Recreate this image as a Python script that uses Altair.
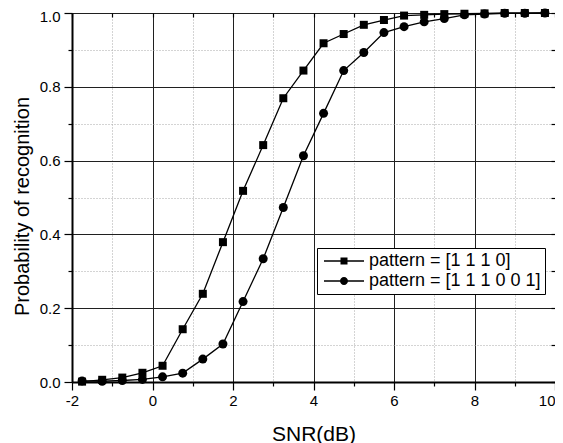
import altair as alt
import pandas as pd

# ---- data ----
snr = [-1.75, -1.25, -0.75, -0.25, 0.25, 0.75, 1.25, 1.75, 2.25, 2.75, 3.25, 3.75,
       4.25, 4.75, 5.25, 5.75, 6.25, 6.75, 7.25, 7.75, 8.25, 8.75, 9.25, 9.75]
p_sq = [0.001, 0.006, 0.012, 0.025, 0.044, 0.143, 0.239, 0.379, 0.518, 0.642, 0.769, 0.844,
        0.918, 0.943, 0.968, 0.981, 0.993, 0.995, 0.997, 0.998, 0.999, 1.0, 1.0, 1.0]
p_ci = [0.003, 0.002, 0.004, 0.007, 0.014, 0.024, 0.062, 0.103, 0.218, 0.334, 0.473, 0.613,
        0.728, 0.844, 0.893, 0.947, 0.963, 0.976, 0.985, 0.995, 0.997, 0.999, 0.999, 1.0]
series_names = ["pattern = [1 1 1 0]", "pattern = [1 1 1 0 0 1]"]

x_major = [-2, 0, 2, 4, 6, 8, 10]
x_minor = [-1, 1, 3, 5, 7, 9]
y_major = [0.0, 0.2, 0.4, 0.6, 0.8, 1.0]
y_minor = [0.1, 0.3, 0.5, 0.7, 0.9]

df = pd.DataFrame({
    "snr": snr + snr,
    "p": p_sq + p_ci,
    "series": [series_names[0]] * len(snr) + [series_names[1]] * len(snr),
})

W, H = 483, 369
FONT = "Liberation Sans"
xs = alt.Scale(domain=[-2, 10], nice=False, zero=False)
ys = alt.Scale(domain=[0, 1], nice=False, zero=False)

base = alt.Chart(df)
sq = base.transform_filter(alt.datum.series == series_names[0])
ci = base.transform_filter(alt.datum.series == series_names[1])

# minor grid + minor ticks (bottom/left)
layer_minor = sq.mark_line(color="black", strokeWidth=1.3).encode(
    x=alt.X("snr:Q", scale=xs, axis=alt.Axis(
        orient="bottom", values=x_minor, labels=False, title=None, domain=False,
        ticks=True, tickSize=4, tickColor="black", tickWidth=1.2,
        grid=True, gridColor="#a8a8a8", gridDash=[1, 2], gridWidth=1)),
    y=alt.Y("p:Q", scale=ys, axis=alt.Axis(
        orient="left", values=y_minor, labels=False, title=None, domain=False,
        ticks=True, tickSize=4, tickColor="black", tickWidth=1.2,
        grid=True, gridColor="#a8a8a8", gridDash=[1, 2], gridWidth=1)),
)

# major grid, labels, titles
layer_major = ci.mark_line(color="black", strokeWidth=1.3).encode(
    x=alt.X("snr:Q", scale=xs, axis=alt.Axis(
        orient="bottom", values=x_major, title="SNR(dB)",
        labelExpr="'' + datum.value", labelFlush=False, labelOverlap=False,
        labelAlign=alt.expr("datum.value == 10 ? 'right' : 'center'"),
        labelFont=FONT, labelFontSize=15, labelColor="black", labelPadding=3,
        domain=True, domainColor="black", domainWidth=2,
        ticks=True, tickSize=8, tickColor="black", tickWidth=1.2,
        grid=True, gridColor="#202020", gridWidth=1,
        titleFont=FONT, titleFontSize=21, titleFontWeight="normal", titleColor="black",
        titleBaseline="alphabetic", titleY=58)),
    y=alt.Y("p:Q", scale=ys, axis=alt.Axis(
        orient="left", values=y_major, format=".1f", title="Probability of recognition",
        labelFlush=False, labelOverlap=False,
        labelOffset=alt.expr("datum.value == 1 ? 3 : 0"),
        labelFont=FONT, labelFontSize=15, labelColor="black", labelPadding=4,
        domain=True, domainColor="black", domainWidth=2,
        ticks=True, tickSize=8, tickColor="black", tickWidth=1.2,
        grid=True, gridColor="#202020", gridWidth=1,
        titleFont=FONT, titleFontSize=20, titleFontWeight="normal", titleColor="black",
        titleX=-40, titleY=193)),
)

# inward ticks on top / right edges
layer_mirror = sq.mark_point(shape="square", filled=True, color="black", size=64, opacity=1).encode(
    x=alt.X("snr:Q", scale=xs, axis=alt.Axis(
        orient="bottom", offset=-H, values=x_major + x_minor, labels=False, title=None,
        domain=False, ticks=True, tickSize=4, tickColor="black", tickWidth=1.2, grid=False)),
    y=alt.Y("p:Q", scale=ys, axis=alt.Axis(
        orient="left", offset=-W, values=y_major + y_minor, labels=False, title=None,
        domain=False, ticks=True, tickSize=4, tickColor="black", tickWidth=1.2, grid=False)),
)

layer_circles = ci.mark_point(shape="circle", filled=True, color="black", size=81, opacity=1).encode(
    x=alt.X("snr:Q", scale=xs, axis=None),
    y=alt.Y("p:Q", scale=ys, axis=None),
)

# legend: line + marker symbols as custom paths
path_sq = "M-4,-0.13H4V0.13H-4Z M-0.7,-0.7H0.7V0.7H-0.7Z"
path_ci = "M-4,-0.13H4V0.13H-4Z M-0.8,0A0.8,0.8 0 1,1 0.8,0A0.8,0.8 0 1,1 -0.8,0Z"

layer_legend = base.mark_point(opacity=0, filled=True, color="black").encode(
    x=alt.X("snr:Q", scale=xs, axis=None),
    y=alt.Y("p:Q", scale=ys, axis=None),
    shape=alt.Shape("series:N", scale=alt.Scale(domain=series_names, range=[path_sq, path_ci]),
                    legend=alt.Legend(
                        title=None, orient="none", legendX=245, legendY=235,
                        strokeColor="black", fillColor="white", padding=4, cornerRadius=0,
                        symbolSize=100, symbolOpacity=1, symbolFillColor="black",
                        symbolStrokeColor="black", symbolStrokeWidth=0,
                        symbolOffset=14, labelOffset=16, rowPadding=2,
                        labelFont=FONT, labelFontSize=18, labelColor="black", labelLimit=400)),
)

chart = alt.layer(
    layer_minor, layer_major, layer_mirror, layer_circles, layer_legend
).resolve_axis(x="independent", y="independent").properties(
    width=W, height=H,
    autosize=alt.AutoSizeParams(type="none"),
    padding={"left": 64, "top": 5, "right": 0, "bottom": 61},
).configure_view(stroke=None).configure(background="white")

chart.save("out.html", embed_options={"renderer": "svg", "actions": False})
